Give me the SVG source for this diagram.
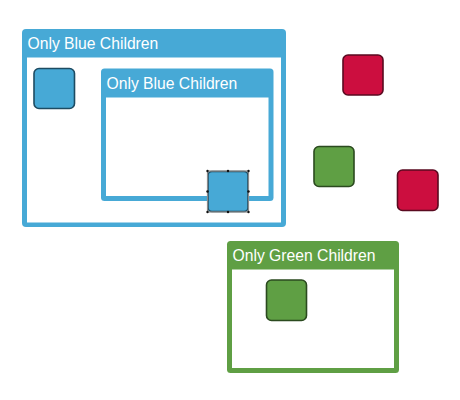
<svg xmlns="http://www.w3.org/2000/svg" width="460" height="400" viewBox="0 0 460 400">
<style>
.grp-blue{fill:#47a9d6}
.grp-green{fill:#5f9f44}
.body{fill:#ffffff}
.title{font-family:"Liberation Sans",Arial,sans-serif;font-size:15.7px;fill:#ffffff}
.n-blue{fill:#47a9d6;stroke:#1d4b62;stroke-width:1.6}
.n-green{fill:#5f9f44;stroke:#2b4a1f;stroke-width:1.6}
.n-red{fill:#cc0e3f;stroke:#5a0a20;stroke-width:1.6}
.sel{fill:none;stroke:#8a8a8a;stroke-width:1.2}
.h{fill:#111}
</style>
<rect width="460" height="400" fill="#ffffff"/>
<g id="group-outer-blue">
<rect class="grp-blue" x="22" y="29" width="264" height="198" rx="4"/>
<rect class="body" x="27" y="57.5" width="254" height="165"/>
<text class="title" x="27.5" y="49">Only Blue Children</text>
</g>
<g id="group-inner-blue">
<rect class="grp-blue" x="101" y="68.5" width="172.5" height="132.5" rx="3.5"/>
<rect class="body" x="106" y="97.5" width="162.5" height="98.5"/>
<text class="title" x="106.5" y="88.5">Only Blue Children</text>
</g>
<g id="group-green">
<rect class="grp-green" x="227" y="241" width="172" height="132" rx="3.5"/>
<rect class="body" x="232" y="269.5" width="162" height="98.5"/>
<text class="title" x="232.5" y="261">Only Green Children</text>
</g>
<g id="node-blue-1"><rect class="n-blue" x="34" y="68.5" width="40.5" height="40" rx="5"/></g>
<g id="node-blue-2">
<rect class="n-blue" x="208" y="171.5" width="40" height="40" rx="4" stroke="#555"/>
<rect class="sel" x="207.5" y="171" width="41" height="41"/>
<circle class="h" cx="207.5" cy="171" r="1.2"/><circle class="h" cx="228" cy="171" r="1.2"/><circle class="h" cx="248.5" cy="171" r="1.2"/>
<circle class="h" cx="207.5" cy="191.5" r="1.2"/><circle class="h" cx="248.5" cy="191.5" r="1.2"/>
<circle class="h" cx="207.5" cy="212" r="1.2"/><circle class="h" cx="228" cy="212" r="1.2"/><circle class="h" cx="248.5" cy="212" r="1.2"/>
</g>
<g id="node-green-1"><rect class="n-green" x="266.5" y="280" width="40" height="40.5" rx="5"/></g>
<g id="node-green-2"><rect class="n-green" x="314" y="146.5" width="40" height="40" rx="5"/></g>
<g id="node-red-1"><rect class="n-red" x="343" y="55" width="40" height="40" rx="5"/></g>
<g id="node-red-2"><rect class="n-red" x="397.5" y="170" width="40.5" height="40.5" rx="5"/></g>
<g id="connectors"></g>
</svg>
